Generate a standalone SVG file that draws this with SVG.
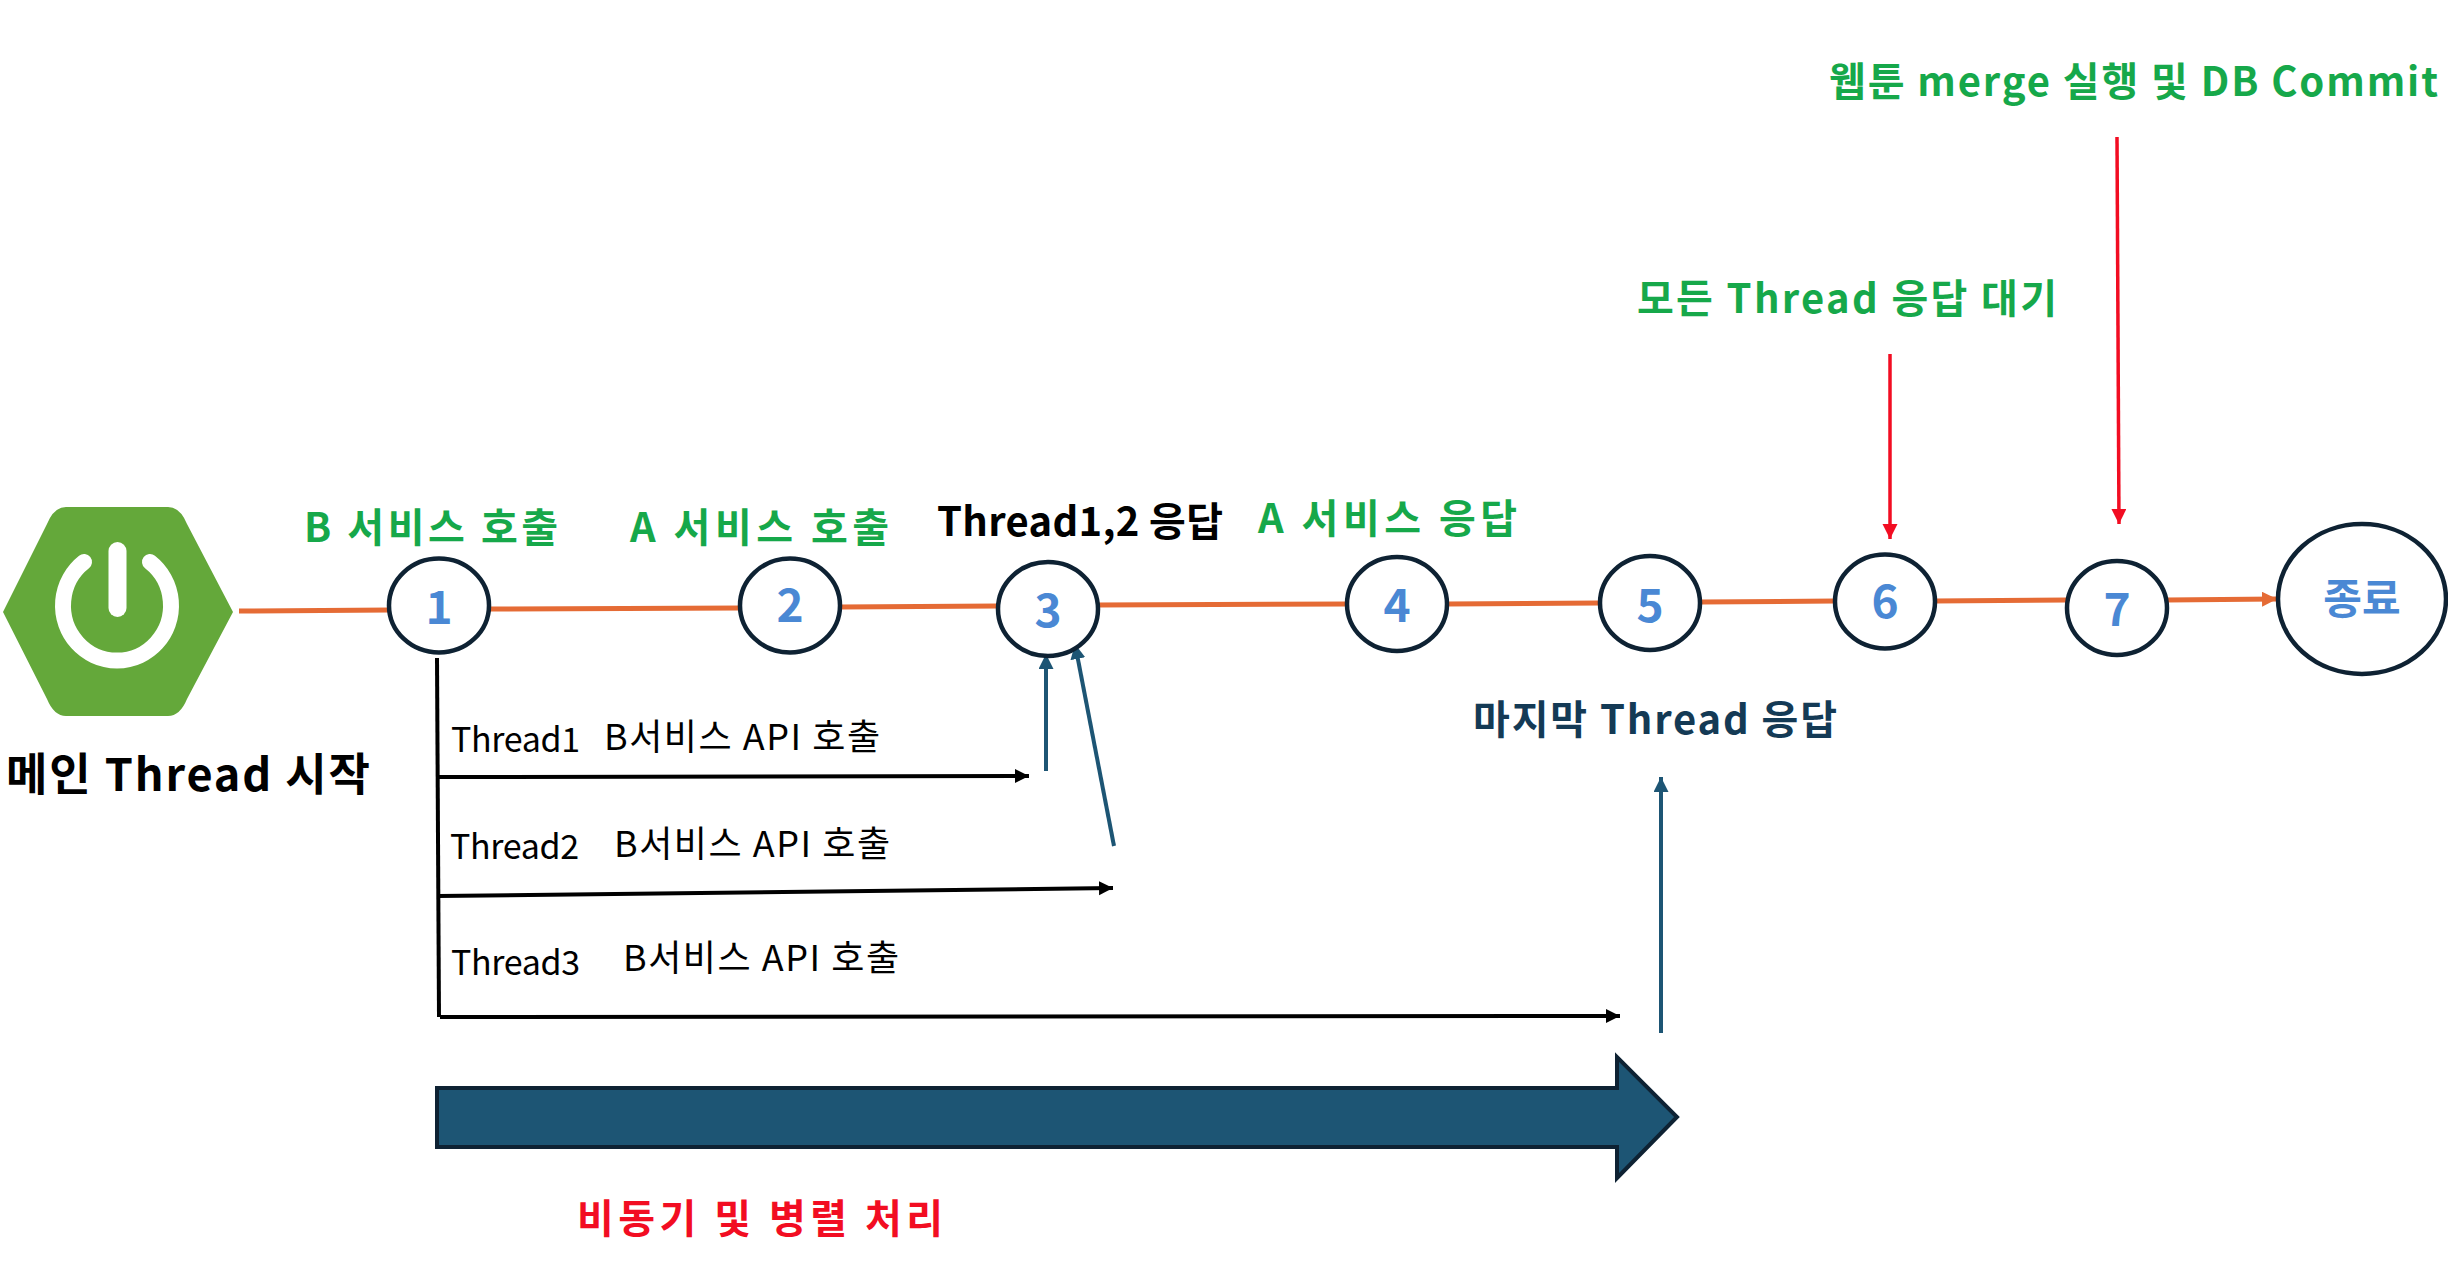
<svg xmlns="http://www.w3.org/2000/svg" width="2448" height="1266" viewBox="0 0 2448 1266">
<style>
text{font-family:"Noto Sans CJK KR","Noto Sans",sans-serif}
.g{font-size:40px;font-weight:700;fill:#16a84a}
.t{font-size:34px;fill:#000}
.a{font-size:36px;fill:#000}
.n{font-size:46px;font-weight:700;fill:#4a88d4;text-anchor:middle}
.c{fill:#fff;stroke:#0e2233;stroke-width:4.5}
.o{stroke:#e56b35;stroke-width:5;fill:none}
.k{stroke:#000;stroke-width:4;fill:none}
.b{stroke:#1d5574;stroke-width:4;fill:none}
.r{stroke:#f20d22;stroke-width:3.5;fill:none}
</style>
<defs>
<marker id="mk" markerUnits="userSpaceOnUse" markerWidth="16" markerHeight="16" refX="14" refY="7" orient="auto"><path d="M0 0L14 7L0 14Z" fill="#000"/></marker>
<marker id="mb" markerUnits="userSpaceOnUse" markerWidth="16" markerHeight="16" refX="15" refY="7.5" orient="auto"><path d="M0 0L15 7.5L0 15Z" fill="#1d5574"/></marker>
<marker id="mr" markerUnits="userSpaceOnUse" markerWidth="16" markerHeight="16" refX="15" refY="7.5" orient="auto"><path d="M0 0L15 7.5L0 15Z" fill="#f20d22"/></marker>
<marker id="mo" markerUnits="userSpaceOnUse" markerWidth="16" markerHeight="16" refX="15" refY="7.5" orient="auto"><path d="M0 0L15 7.5L0 15Z" fill="#e56b35"/></marker>
</defs>
<rect width="2448" height="1266" fill="#fff"/>
<g id="connectors">
<path class="o" d="M239 611L390 610"/>
<path class="o" d="M489 609L742 608"/>
<path class="o" d="M840 607L998 606"/>
<path class="o" d="M1097 605L1348 604"/>
<path class="o" d="M1447 604L1600 603"/>
<path class="o" d="M1700 602L1835 601"/>
<path class="o" d="M1934 601L2067 600"/>
<path class="o" d="M2167 600L2277 599" marker-end="url(#mo)"/>
<path class="k" d="M437 658L439 1017"/>
<path class="k" d="M438 777L1029 776" marker-end="url(#mk)"/>
<path class="k" d="M438 896L1113 888" marker-end="url(#mk)"/>
<path class="k" d="M440 1017L1620 1016" marker-end="url(#mk)"/>
<path class="b" d="M1046 771V654" marker-end="url(#mb)"/>
<path class="b" d="M1114 846L1075 644" marker-end="url(#mb)"/>
<path class="b" d="M1661 1033V777" marker-end="url(#mb)"/>
<path class="r" d="M1890 354V539" marker-end="url(#mr)"/>
<path class="r" d="M2117 137L2119 524" marker-end="url(#mr)"/>
</g>
<g id="spring-logo">
<path d="M66 507H168Q180 507 187 524L233 612L187 699Q180 716 168 716H66Q54 716 47 699L3 612L47 524Q54 507 66 507Z" fill="#64a83a"/>
<path d="M84 562A54 55 0 1 0 150 562" fill="none" stroke="#fff" stroke-width="16" stroke-linecap="round"/>
<path d="M117.500 551V608" stroke="#fff" stroke-width="18" stroke-linecap="round"/>
</g>
<g id="start-label"><text x="6" y="791" font-size="45" font-weight="700" fill="#000" textLength="364">메인 Thread 시작</text></g>
<g id="n1"><ellipse class="c" cx="439" cy="605.500" rx="50" ry="47"/><text class="n" x="439" y="624">1</text></g>
<g id="n2"><ellipse class="c" cx="790" cy="605.500" rx="50" ry="47"/><text class="n" x="790" y="622">2</text></g>
<g id="n3"><ellipse class="c" cx="1048" cy="609" rx="50" ry="47"/><text class="n" x="1048" y="627">3</text></g>
<g id="n4"><ellipse class="c" cx="1397" cy="604" rx="50" ry="47"/><text class="n" x="1397" y="622">4</text></g>
<g id="n5"><ellipse class="c" cx="1650" cy="603" rx="50" ry="47"/><text class="n" x="1650" y="622">5</text></g>
<g id="n6"><ellipse class="c" cx="1885" cy="601.500" rx="50" ry="47"/><text class="n" x="1885" y="618">6</text></g>
<g id="n7"><ellipse class="c" cx="2117" cy="608" rx="50" ry="47"/><text class="n" x="2117" y="626">7</text></g>
<g id="end"><ellipse class="c" cx="2362" cy="599" rx="84" ry="75"/><text x="2362" y="614" font-size="42" font-weight="700" fill="#4a88d4" text-anchor="middle">종료</text></g>
<g id="labels">
<text class="g" x="304" y="542" textLength="254">B 서비스 호출</text>
<text class="g" x="630" y="542" textLength="259">A 서비스 호출</text>
<text x="937" y="536" font-size="40" font-weight="700" fill="#000" textLength="286">Thread1,2 응답</text>
<text class="g" x="1258" y="533" textLength="259">A 서비스 응답</text>
<text x="1473" y="734" font-size="40" font-weight="700" fill="#143a55" textLength="364">마지막 Thread 응답</text>
<text class="g" x="1637" y="313" textLength="420">모든 Thread 응답 대기</text>
<text class="g" x="1829" y="96" textLength="609">웹툰 merge 실행 및 DB Commit</text>
<text class="t" x="451" y="752" textLength="129">Thread1</text><text class="a" x="604" y="750" textLength="276">B서비스 API 호출</text>
<text class="t" x="450" y="859" textLength="129">Thread2</text><text class="a" x="614" y="857" textLength="276">B서비스 API 호출</text>
<text class="t" x="451" y="975" textLength="129">Thread3</text><text class="a" x="623" y="971" textLength="276">B서비스 API 호출</text>
<text x="577" y="1233" font-size="40" font-weight="700" fill="#f20d22" textLength="366">비동기 및 병렬 처리</text>
</g>
<g id="parallel-arrow"><path d="M437 1088H1617V1057L1677 1117L1617 1178V1147H437Z" fill="#1d5574" stroke="#0e2233" stroke-width="4"/></g>
</svg>
